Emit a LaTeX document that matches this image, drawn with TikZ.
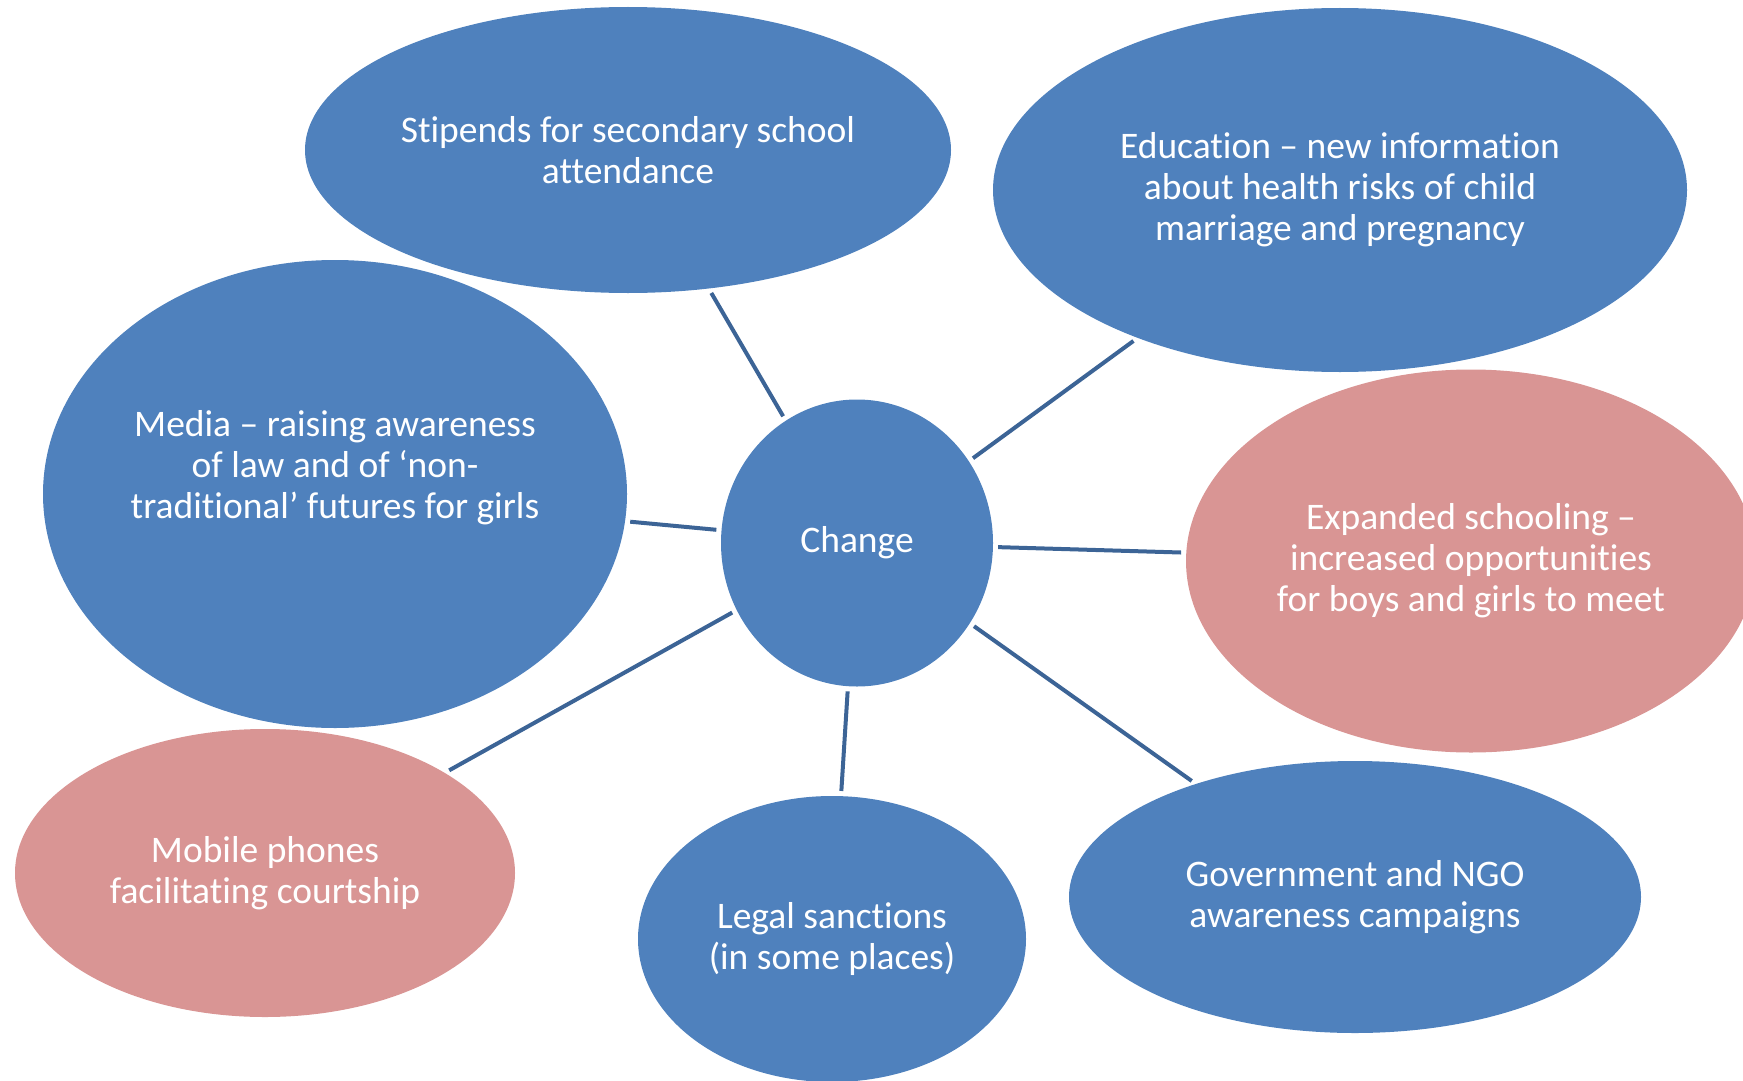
\documentclass[tikz,border=0pt]{standalone}
\usepackage{fontspec}
\setmainfont{Carlito}[RawFeature={-liga;-clig;-calt;-dlig}]
\usetikzlibrary{shapes.geometric}
\definecolor{blobblue}{RGB}{79,129,189}
\definecolor{blobpink}{RGB}{217,149,148}
\definecolor{spoke}{RGB}{60,100,150}

\begin{document}
\begin{tikzpicture}[x=1pt, y=-1pt,
        blob/.style={ellipse, fill=blobblue, draw=none, inner sep=0pt, text=white, align=center,
                     font=\fontsize{37.5}{41}\selectfont},
        pinkblob/.style={blob, fill=blobpink},
        blobtext/.style={text=white, align=center, font=\fontsize{37.5}{41}\selectfont},
        spokeline/.style={draw=spoke, line width=4pt, shorten <=5pt, shorten >=5pt}]

                    \useasboundingbox (0,0) rectangle (1743,1081);

                    \node[blob, minimum width=272pt, minimum height=287pt] (change) at (857,543) {Change};

                    \node[blob, minimum width=646pt, minimum height=286pt] (stipends) at (628,150)
                        {Stipends for secondary school\\attendance};
                    \node[blob, minimum width=694pt, minimum height=364pt] (education) at (1340,190)
                        {Education -- new information\\about health risks of child\\marriage and pregnancy};
                    \node[blob, minimum width=584pt, minimum height=468pt] (media) at (335,494) {};
                    \node[blobtext] (mediatext) at (335,468)
                        {Media -- raising awareness\\of law and of ‘non-\\traditional’ futures for girls};
                    \node[pinkblob, minimum width=570pt, minimum height=383pt] (schooling) at (1471,561)
                        {Expanded schooling --\\increased opportunities\\for boys and girls to meet};
                    \node[pinkblob, minimum width=500pt, minimum height=288pt] (phones) at (265,873)
                        {Mobile phones\\facilitating courtship};
                    \node[blob, minimum width=388pt, minimum height=286pt] (legal) at (832,939)
                        {Legal sanctions\\(in some places)};
                    \node[blob, minimum width=572pt, minimum height=272pt] (campaigns) at (1355,897)
                        {Government and NGO\\awareness campaigns};

                    \draw[spokeline] (change) -- (stipends);
                    \draw[spokeline] (change) -- (education);
                    \draw[spokeline] (change) -- (media);
                    \draw[spokeline] (change) -- (schooling);
                    \draw[spokeline] (change) -- (phones);
                    \draw[spokeline] (change) -- (legal);
                    \draw[spokeline] (change) -- (campaigns);
                \end{tikzpicture}
\end{document}
